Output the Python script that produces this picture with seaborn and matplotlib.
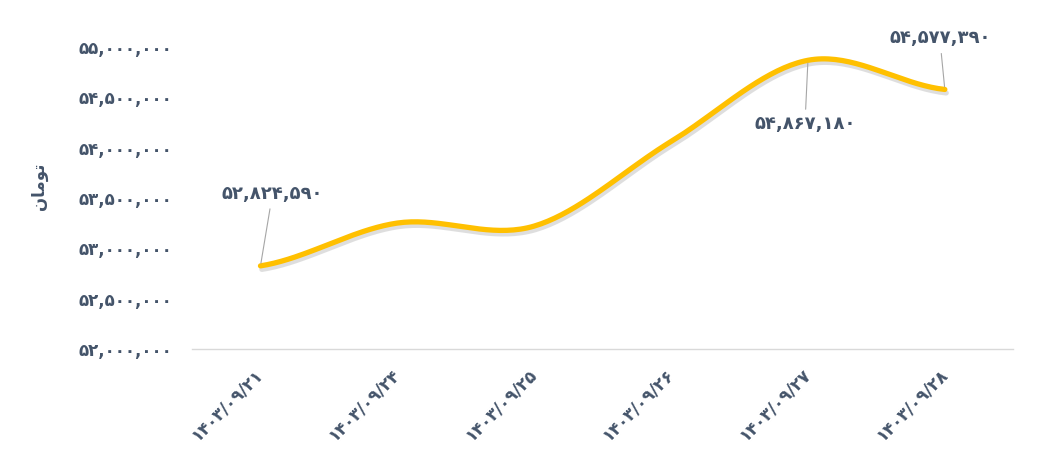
import numpy as np
import pandas as pd
import matplotlib
matplotlib.use("Agg")
import matplotlib.pyplot as plt
import matplotlib.patheffects as pe
import seaborn as sns

# data
dates = ["1403/09/21", "1403/09/24", "1403/09/25", "1403/09/26", "1403/09/27", "1403/09/28"]
prices = [52824590, 53250000, 53220000, 54060000, 54867180, 54577390]
labelled = [0, 4, 5]
label_offsets = {0: (12, 72), 4: (-3, -64), 5: (-5, 51)}
y_ticks = [52000000, 52500000, 53000000, 53500000, 54000000, 54500000, 55000000]

FA = str.maketrans("0123456789", "۰۱۲۳۴۵۶۷۸۹")


def fa_num(v):
    return f"{v:,.0f}".translate(FA)


# "تومان" in shaped presentation forms (visual order)
unit_label = "\uFEE5\uFE8E\uFEE3\uFEEE\uFE97"

TEXT = "#44546A"

sns.set_style("white")
plt.rcParams["font.family"] = ["DejaVu Sans"]

# Excel style smooth curve (bezier through the points)
def smooth(y, n=40):
    y = np.asarray(y, dtype=float)
    p = np.concatenate([[y[0]], y, [y[-1]]])
    xs, ys = [], []
    for i in range(len(y) - 1):
        p0, p1, p2, p3 = p[i], p[i + 1], p[i + 2], p[i + 3]
        t = np.linspace(0, 1, n, endpoint=False)
        c1 = p1 + (p2 - p0) / 6
        c2 = p2 - (p3 - p1) / 6
        b = (1 - t) ** 3 * p1 + 3 * (1 - t) ** 2 * t * c1 + 3 * (1 - t) * t ** 2 * c2 + t ** 3 * p2
        xs.append(i + t)
        ys.append(b)
    xs.append([len(y) - 1])
    ys.append([y[-1]])
    return np.concatenate(xs), np.concatenate(ys)


sx, sy = smooth(prices)
df = pd.DataFrame({"x": sx, "price": sy})

fig = plt.figure(figsize=(10.61, 4.74), dpi=100)
ax = fig.add_axes([0.181, 0.264, 0.774, 0.637])

sns.lineplot(data=df, x="x", y="price", ax=ax, color="#FFC000", linewidth=3.8,
             solid_capstyle="round",
             path_effects=[pe.SimpleLineShadow(offset=(1, -2.5), shadow_color="#7f7f7f", alpha=0.25),
                           pe.Normal()])

for i in labelled:
    ax.annotate(fa_num(prices[i]), xy=(i, prices[i]), xytext=label_offsets[i],
                textcoords="offset pixels", ha="center", va="center",
                fontsize=13, fontweight="bold", color=TEXT,
                arrowprops=dict(arrowstyle="-", color="#a6a6a6", lw=0.8,
                                shrinkA=2, shrinkB=2))

ax.set_xlim(-0.5, len(dates) - 0.5)
ax.set_ylim(52000000, 55000000)
ax.set_yticks(y_ticks)
ax.set_yticklabels([fa_num(v) for v in y_ticks], fontsize=12, fontweight="bold", color=TEXT)
ax.set_xticks(range(len(dates)))
ax.set_xticklabels([d.translate(FA) for d in dates], rotation=45, ha="right", va="center",
                   rotation_mode="anchor", fontsize=12, fontweight="bold", color=TEXT)
ax.tick_params(axis="x", length=0, pad=16)
ax.tick_params(axis="y", length=0, pad=14)
ax.set_xlabel("")
ax.set_ylabel(unit_label, fontsize=12, fontweight="bold", color=TEXT)
ax.yaxis.set_label_coords(-0.176, 0.54)

for s in ["top", "right", "left"]:
    ax.spines[s].set_visible(False)
ax.spines["bottom"].set_color("#d9d9d9")
ax.spines["bottom"].set_linewidth(1)

fig.savefig("out.png", dpi=100)
